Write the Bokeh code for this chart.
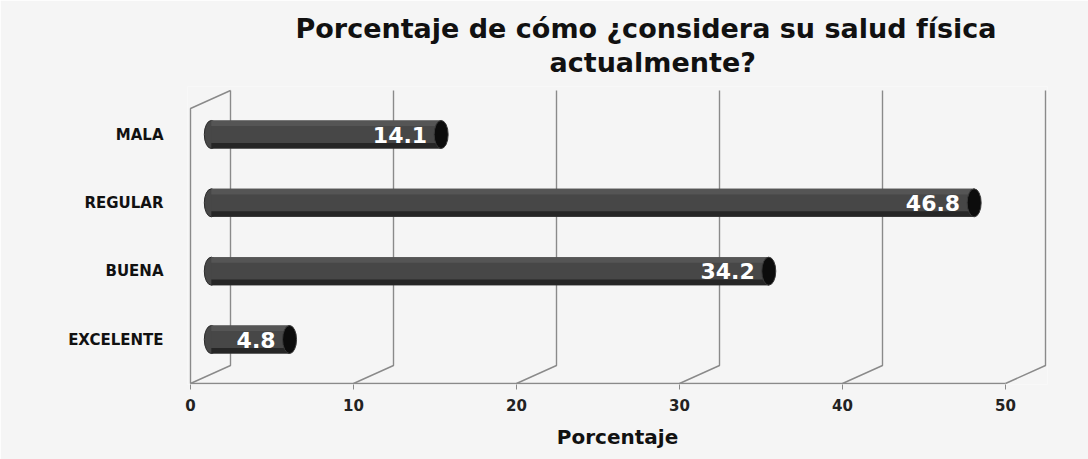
import numpy as np
from bokeh.plotting import figure
from bokeh.models import Range1d, FixedTicker, Title, ColumnDataSource
from bokeh.embed import file_html
from bokeh.resources import INLINE
from bokeh.core.properties import value

# ---------------- data ----------------
categories = ["EXCELENTE", "BUENA", "REGULAR", "MALA"]
values = [4.8, 34.2, 46.8, 14.1]
x_ticks = [0, 10, 20, 30, 40, 50]
title_lines = ["Porcentaje de cómo ¿considera su salud  física", "actualmente?"]
x_title = "Porcentaje"

# ---------------- layout ----------------
W, H = 1088, 459
FL, FR, FT, FB = 187, 1047, 86, 384     # frame edges (px)
KX, X0PX = 16.3, 190                     # px per unit, px of value 0
KY, Y0PX = 68.33, 339                    # px per category step, px of first category

x_start = (FL - X0PX) / KX
x_end = (FR - X0PX) / KX
y_start = -(FB - Y0PX) / KY
y_end = (Y0PX - FT) / KY

DX = 40 / KX          # depth offset in x units
DY = 18 / KY          # depth offset in y units
FLOOR = -(383 - Y0PX) / KY
TOP = (Y0PX - 90) / KY
BH = 28 / KY          # bar thickness
XB = DX / 2 + 0.05    # bars sit at mid depth

FONT = "DejaVu Sans"
GRID = "#8a8a8a"
BG = "#f5f5f5"

p = figure(width=W, height=H, output_backend="svg", toolbar_location=None,
           x_range=Range1d(x_start, x_end), y_range=Range1d(y_start, y_end),
           min_border_left=FL, min_border_right=W - FR,
           min_border_top=FT, min_border_bottom=H - FB)
p.background_fill_color = BG
p.border_fill_color = BG
p.outline_line_color = None
p.xgrid.visible = False
p.ygrid.visible = False

# ---------------- title (two centred lines) ----------------
title_offsets = [108, 362]         # left offset of each line from frame (px)
title_standoffs = [-16, 18]
for i in (1, 0):                   # closest to the frame first
    p.add_layout(Title(text=title_lines[i], align="left",
                       offset=title_offsets[i], standoff=title_standoffs[i],
                       text_font=FONT, text_font_size="27px",
                       text_font_style="bold", text_color="#111111",
                       text_line_height=0.92), "above")

# ---------------- 3D walls / grid ----------------
gx, gy = [], []
for t in x_ticks:
    gx.append([t, t + DX, t + DX])
    gy.append([FLOOR, FLOOR + DY, TOP])
# left wall
gx.append([0, 0, DX])
gy.append([FLOOR, TOP - DY, TOP])
# front baseline
gx.append([x_ticks[0], x_ticks[-1]])
gy.append([FLOOR, FLOOR])
p.multi_line(gx, gy, line_color=GRID, line_width=1.4)

# ---------------- cylinders ----------------
ys = list(range(len(categories)))
src = ColumnDataSource(dict(
    y=ys, v=values,
    left=[XB] * len(values),
    right=[XB + v for v in values],
    ytop=[y + BH * 0.40 for y in ys],
    ybot=[y - BH * 0.40 for y in ys],
    lab=[f"{v:.1f}" for v in values],
    labx=[XB + v - 14 / KX for v in values],
))
ew = 14 / KX
p.ellipse(x="left", y="y", width=ew, height=BH, source=src,
          fill_color="#474747", line_color="#2a2a2a", line_width=1)
p.hbar(y="y", left="left", right="right", height=BH, source=src,
       fill_color="#474747", line_color=None)
p.hbar(y="ytop", left="left", right="right", height=BH * 0.2, source=src,
       fill_color="#555555", line_color=None)
p.hbar(y="ybot", left="left", right="right", height=BH * 0.2, source=src,
       fill_color="#262626", line_color=None)
p.ellipse(x="right", y="y", width=ew, height=BH, source=src,
          fill_color="#0c0c0c", line_color="#3a3a3a", line_width=1)
p.text(x="labx", y="y", text="lab", source=src, text_align="right",
       text_baseline="middle", text_color="white", text_font=value(FONT),
       text_font_size="22px", text_font_style="bold")

# ---------------- axes ----------------
xa = p.xaxis[0]
xa.ticker = FixedTicker(ticks=x_ticks)
xa.axis_line_color = None
xa.major_tick_in = 0
xa.major_tick_out = 5
xa.major_tick_line_color = GRID
xa.minor_tick_line_color = None
xa.major_label_standoff = 9
xa.major_label_text_font = FONT
xa.major_label_text_font_size = "15px"
xa.major_label_text_font_style = "bold"
xa.major_label_text_color = "#222222"
xa.axis_label = x_title
xa.axis_label_standoff = 11
xa.axis_label_text_font = FONT
xa.axis_label_text_font_size = "20px"
xa.axis_label_text_font_style = "bold"
xa.axis_label_text_color = "#111111"

ya = p.yaxis[0]
ya.ticker = FixedTicker(ticks=ys)
ya.major_label_overrides = {i: c for i, c in enumerate(categories)}
ya.axis_line_color = None
ya.major_tick_line_color = None
ya.minor_tick_line_color = None
ya.major_label_standoff = 18
ya.major_label_text_font = FONT
ya.major_label_text_font_size = "15px"
ya.major_label_text_font_style = "bold"
ya.major_label_text_color = "#111111"

open("out.html", "w").write(file_html(p, INLINE))
